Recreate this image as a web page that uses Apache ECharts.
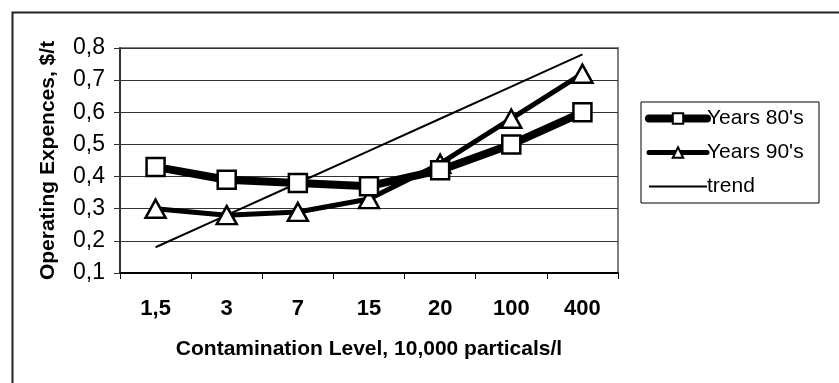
<!DOCTYPE html>
<html>
<head>
<meta charset="utf-8">
<script src="https://cdn.jsdelivr.net/npm/echarts@6/dist/echarts.min.js"></script>
<style>
  html, body { margin: 0; padding: 0; background: #fff; }
  #chart { width: 839px; height: 383px; }
</style>
</head>
<body>
<div id="chart"></div>
<script>
// Contamination levels (10,000 particles per litre)
const categories = ['1,5', '3', '7', '15', '20', '100', '400'];
// Operating expenses, $/t
const years80 = [0.43, 0.39, 0.38, 0.37, 0.42, 0.50, 0.60];
const years90 = [0.30, 0.28, 0.29, 0.33, 0.44, 0.58, 0.72];
const trend = [0.18, 0.28, 0.38, 0.48, 0.58, 0.68, 0.78];

const FONT = 'Liberation Sans, Arial, sans-serif';
const chart = echarts.init(document.getElementById('chart'), null, { renderer: 'canvas' });

chart.setOption({
  backgroundColor: '#fff',
  animation: false,
  textStyle: { fontFamily: FONT, color: '#000' },
  graphic: [
    {
      type: 'rect', left: 10, top: 10, z: -1, silent: true,
      shape: { x: 0, y: 0, width: 900, height: 500 },
      style: { fill: null, stroke: '#222', lineWidth: 2 }
    },
    {
      type: 'rect', z: 10, silent: true,
      shape: { x: 641, y: 102, width: 178, height: 101 },
      style: { fill: '#fff', stroke: '#000', lineWidth: 1 }
    }
  ],
  grid: {
    left: 120, right: 221, top: 48, bottom: 110,
    show: true, borderColor: '#808080', borderWidth: 2, backgroundColor: '#fff'
  },
  legend: {
    left: 641, top: 108, orient: 'vertical', z: 20,
    padding: [0, 0, 0, 4],
    itemWidth: 58, itemHeight: 13, itemGap: 13,
    textStyle: { fontFamily: FONT, fontSize: 21, color: '#000', padding: [0, 0, 0, -5] },
    data: [
      { name: "Years 80's", lineStyle: { width: 8, cap: 'round' } },
      { name: "Years 90's", lineStyle: { width: 5, cap: 'round' } },
      { name: 'trend', lineStyle: { width: 2 }, itemStyle: { color: 'rgba(0,0,0,0)', borderWidth: 0 } }
    ]
  },
  xAxis: {
    type: 'category',
    data: categories,
    boundaryGap: true,
    name: 'Contamination Level, 10,000 particals/l',
    nameLocation: 'middle',
    nameGap: 66,
    nameTextStyle: { fontFamily: FONT, fontSize: 21, fontWeight: 'bold', color: '#000' },
    axisLine: { lineStyle: { color: '#000', width: 2 } },
    axisTick: { show: true, inside: false, length: 6, alignWithLabel: false, lineStyle: { color: '#000', width: 1 } },
    axisLabel: { fontFamily: FONT, fontSize: 22, fontWeight: 'bold', color: '#000', margin: 25 },
    splitLine: { show: false }
  },
  yAxis: {
    type: 'value',
    min: 0.1, max: 0.8, interval: 0.1,
    name: 'Operating Expences, $/t',
    nameLocation: 'middle',
    nameGap: 61,
    nameTextStyle: { fontFamily: FONT, fontSize: 21, fontWeight: 'bold', color: '#000' },
    axisLine: { show: true, lineStyle: { color: '#333', width: 2 } },
    axisTick: { show: true, length: 6, lineStyle: { color: '#333', width: 1 } },
    axisLabel: {
      fontFamily: FONT, fontSize: 23, color: '#000', margin: 15,
      formatter: v => v.toFixed(1).replace('.', ',')
    },
    splitLine: { show: true, lineStyle: { color: '#333', width: 1 } }
  },
  series: [
    {
      name: 'trend', type: 'line', data: trend, z: 1,
      showSymbol: false, symbol: 'none',
      lineStyle: { color: '#000', width: 2 },
      itemStyle: { color: '#000' }
    },
    {
      name: "Years 80's", type: 'line', data: years80, z: 3,
      symbol: 'rect', symbolSize: 18,
      lineStyle: { color: '#000', width: 8 },
      itemStyle: { color: '#fff', borderColor: '#000', borderWidth: 2.5 }
    },
    {
      name: "Years 90's", type: 'line', data: years90, z: 2,
      symbol: 'triangle', symbolSize: [20, 18],
      lineStyle: { color: '#000', width: 5 },
      itemStyle: { color: '#fff', borderColor: '#000', borderWidth: 2.5 }
    }
  ]
});
</script>
</body>
</html>
